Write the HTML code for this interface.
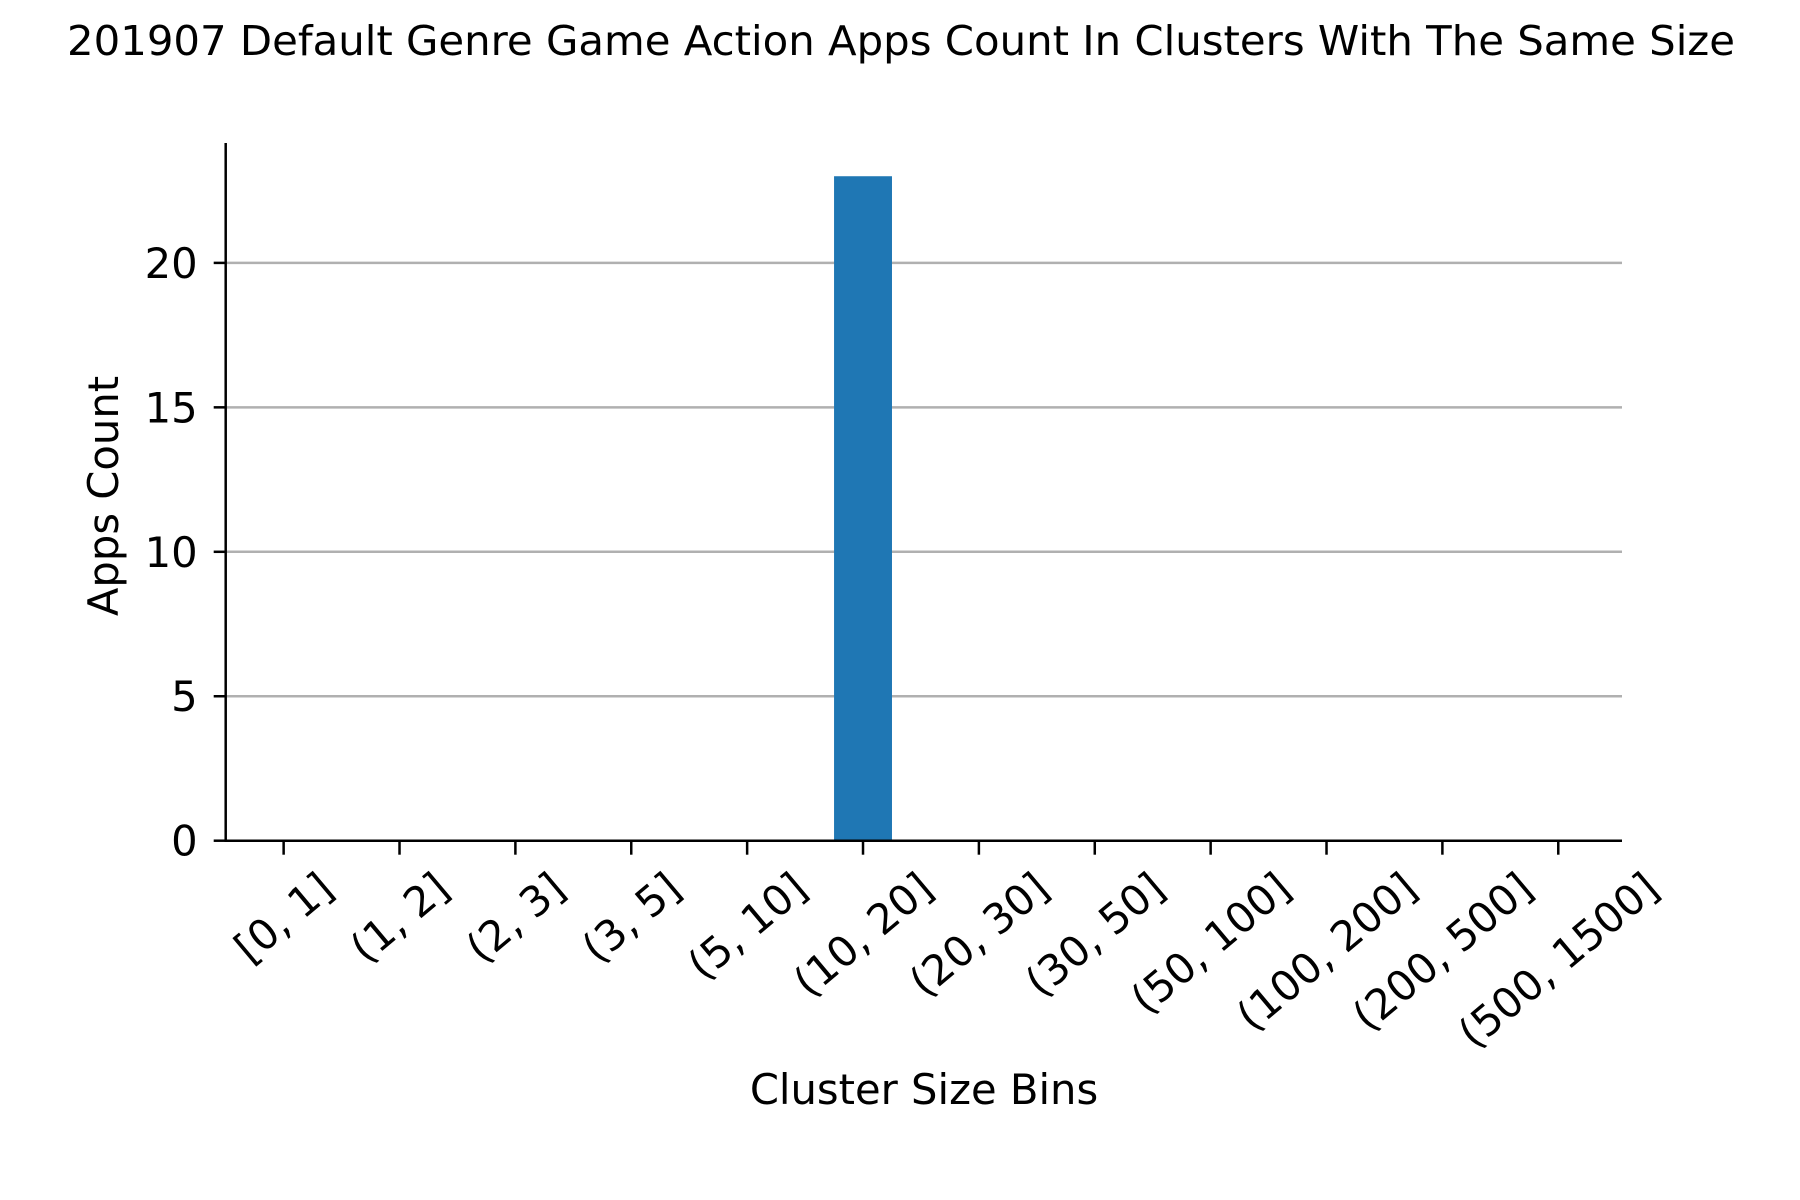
<!DOCTYPE html>
<html><head><meta charset="utf-8"><style>
html,body{margin:0;padding:0;background:#fff;}
svg{display:block;font-family:"DejaVu Sans","Liberation Sans",sans-serif;}
</style></head><body>
<svg id="chart" width="1800" height="1200" viewBox="0 0 1800 1200" xmlns="http://www.w3.org/2000/svg">
<rect width="1800" height="1200" fill="#fff"/>
<text x="901" y="55" text-anchor="middle" font-size="41" textLength="1668" lengthAdjust="spacingAndGlyphs">201907 Default Genre Game Action Apps Count In Clusters With The Same Size</text>
<g id="grid"></g><g id="bars"></g><g id="axes"></g><g id="xlabels"></g>
<text x="0" y="0" transform="translate(118,496) rotate(-90)" text-anchor="middle" font-size="41.7">Apps Count</text>
<text x="924" y="1104" text-anchor="middle" font-size="41.7">Cluster Size Bins</text>
</svg>
<script>
const categories=["[0, 1]","(1, 2]","(2, 3]","(3, 5]","(5, 10]","(10, 20]","(20, 30]","(30, 50]","(50, 100]","(100, 200]","(200, 500]","(500, 1500]"];
const values=[0,0,0,0,0,23,0,0,0,0,0,0];
const yTicks=[0,5,10,15,20];
const NS="http://www.w3.org/2000/svg";
const L=225.7,R=1622,T=143,B=840.7;
const yMax=Math.max(...values)*1.05;
const xs=i=>L+(i+0.5)*(R-L)/(categories.length+0.05);
const bw=(R-L)/(categories.length+0.05)*0.5;
const ys=v=>B-(v/yMax)*(B-T);
function mk(tag,attrs,parent){const e=document.createElementNS(NS,tag);for(const k in attrs)e.setAttribute(k,attrs[k]);parent.appendChild(e);return e;}
const grid=document.getElementById('grid'),bars=document.getElementById('bars'),axes=document.getElementById('axes'),xl=document.getElementById('xlabels');
yTicks.forEach(t=>{
  if(t>0){const g=mk('line',{x1:L,x2:R,y1:ys(t),y2:ys(t),stroke:'#b0b0b0','stroke-width':2.5},grid);
  
  }
  const tk=mk('line',{x1:L-12,x2:L,y1:ys(t),y2:ys(t),stroke:'#000','stroke-width':2.5},axes);
  
  
  const lb=mk('text',{x:L-28,y:ys(t)+15,'text-anchor':'end','font-size':41.7},axes);lb.textContent=t;
  
  
});
values.forEach((v,i)=>{
  const r=mk('rect',{x:xs(i)-bw/2,y:ys(v),width:bw,height:B-ys(v),fill:'#1f77b4'},bars);
  
  
});
const ya=mk('line',{x1:L,x2:L,y1:T,y2:B+1.2,stroke:'#000','stroke-width':2.5},axes);


const xa=mk('line',{x1:L-1.2,x2:R,y1:B,y2:B,stroke:'#000','stroke-width':2.5},axes);


const a=40*Math.PI/180;
categories.forEach((c,i)=>{
  const x=xs(i);
  const tk=mk('line',{x1:x,x2:x,y1:B,y2:B+14,stroke:'#000','stroke-width':2.5},axes);
  
  
  const t=mk('text',{x:0,y:0,'text-anchor':'middle','dominant-baseline':'central','font-size':41.7},xl);
  t.textContent=c;
  
  
  const w=t.getComputedTextLength(),h=44;
  const H=w*Math.sin(a)+h*Math.cos(a);
  t.setAttribute('transform','translate('+x+','+(B+24+H/2)+') rotate(-40)');
});
</script>
</body></html>
